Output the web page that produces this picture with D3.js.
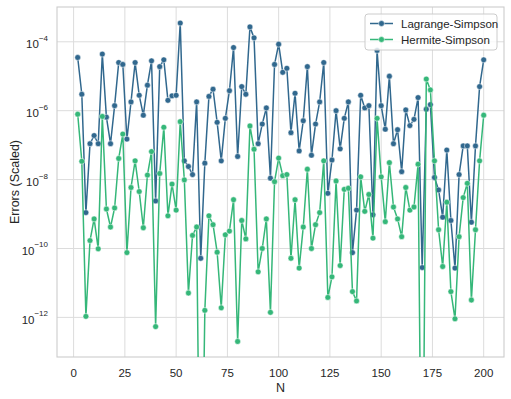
<!DOCTYPE html>
<html>
<head>
<meta charset="utf-8">
<script src="https://cdn.jsdelivr.net/npm/d3@7"></script>
<style>
  html, body { margin: 0; padding: 0; background: #fff; }
  svg text { font-family: Arial, "Liberation Sans", sans-serif; fill: #262626; }
</style>
</head>
<body>
<svg id="chart" width="511" height="399"></svg>
<script>
// N values (x)
const nValues = [2,4,6,8,10,12,14,16,18,20,22,24,26,28,30,32,34,36,38,40,
  42,44,46,48,50,52,54,56,58,60,62,64,66,68,70,72,74,76,78,80,
  82,84,86,88,90,92,94,96,98,100,102,104,106,108,110,112,114,116,118,120,
  122,124,126,128,130,132,134,136,138,140,142,144,146,148,150,152,154,156,158,160,
  162,164,166,168,170,172,174,176,178,180,182,184,186,188,190,192,194,196,198,200];

// scaled errors (0 = below the axis floor)
const lagrange = [3.5e-5,3.0e-6,1.1e-9,1.1e-7,1.9e-7,1.1e-7,4.4e-5,6.5e-7,1.1e-7,1.4e-6,
  2.5e-5,2.2e-5,1.5e-7,1.8e-6,2.5e-5,2.8e-6,7.4e-7,5.5e-6,2.8e-5,2.4e-9,
  1.9e-5,3.0e-5,2.0e-6,2.7e-6,2.8e-6,3.5e-4,3.5e-8,2.4e-8,1.4e-8,1.8e-6,
  5.2e-11,3.0e-8,2.6e-6,4.2e-6,4.6e-7,3.5e-8,6.0e-7,3.8e-6,6.8e-5,4.7e-8,
  5.0e-6,3.0e-6,2.7e-4,1.3e-4,1.1e-7,4.1e-7,1.2e-6,1.1e-8,2.2e-5,8.5e-5,
  1.3e-5,1.7e-5,2.3e-7,3.2e-6,6.8e-8,5.1e-7,1.9e-5,5.1e-8,4.1e-7,1.8e-6,
  2.5e-5,4.0e-9,3.7e-8,1.0e-6,7.8e-8,6.0e-7,1.8e-6,7.6e-11,1.3e-9,2.8e-6,
  1.2e-6,1.4e-6,9.5e-10,5.6e-5,1.4e-6,2.9e-7,1.0e-5,1.1e-7,2.8e-7,1.7e-8,
  1.05e-6,3.7e-7,5.6e-7,2.4e-6,2.8e-11,1.1e-6,1.5e-6,1.15e-8,5.0e-9,8.1e-10,
  7.2e-8,6.5e-10,2.7e-11,1.4e-8,9.5e-8,9.5e-8,5.8e-10,9.5e-8,5.0e-6,3.0e-5];

const hermite = [7.9e-7,3.4e-8,1.07e-12,1.7e-10,7.2e-10,9.8e-11,6.8e-7,1.4e-9,4.2e-10,1.5e-9,
  4.1e-8,2.1e-7,7.6e-11,5.9e-9,3.5e-8,4.5e-9,4.0e-10,1.35e-8,6.5e-8,5.4e-13,
  1.5e-8,3.3e-7,8.9e-10,7.4e-9,1.3e-9,4.8e-7,9.8e-9,5.1e-12,2.4e-10,4.2e-10,
  0,1.6e-12,8.9e-10,4.9e-10,7.8e-11,1.9e-12,2.5e-10,3.2e-10,2.6e-9,2.0e-13,
  6.5e-10,1.9e-10,3.6e-7,7.6e-8,2.1e-11,1.0e-10,7.2e-10,1.4e-12,8.7e-9,4.2e-8,
  1.3e-8,1.4e-8,5.2e-11,2.6e-9,2.7e-11,4.2e-10,2.0e-8,1.0e-10,4.9e-10,1.1e-9,
  3.5e-8,3.8e-12,1.5e-11,9.1e-9,3.2e-11,5.2e-9,5.6e-9,5.6e-12,3.0e-12,1.2e-8,
  1.2e-9,3.7e-9,2.0e-10,6.0e-7,1.2e-8,6.0e-10,3.1e-8,1.6e-9,7.2e-10,2.2e-10,
  5.9e-9,1.3e-9,1.6e-9,2.8e-8,0,8.3e-6,4.0e-6,3.5e-8,3.5e-10,3.0e-11,
  2.2e-9,5.6e-12,9.1e-13,2.2e-10,3.0e-9,7.8e-9,3.2e-12,3.5e-10,3.5e-8,7.4e-7];

const seriesNames = ['Lagrange-Simpson', 'Hermite-Simpson'];
const seriesColors = ['#31688e', '#35b779'];
const xTicks = [0, 25, 50, 75, 100, 125, 150, 175, 200];
const yTickExps = [-4, -6, -8, -10, -12];

const svg = d3.select('#chart');
const m = { left: 57, right: 504, top: 7, bottom: 357 };

const x = d3.scaleLinear().domain([-8.1, 209.9]).range([m.left, m.right]);
const y = d3.scaleLog().domain([Math.pow(10, -13.15), Math.pow(10, -2.99)]).range([m.bottom, m.top]);
const floor = 1e-20;

// grid
const grid = svg.append('g').attr('stroke', '#dcdcdc').attr('stroke-width', 1);
grid.selectAll('.gx').data(xTicks).enter().append('line')
  .attr('x1', d => x(d)).attr('x2', d => x(d)).attr('y1', m.top).attr('y2', m.bottom);
grid.selectAll('.gy').data(yTickExps).enter().append('line')
  .attr('x1', m.left).attr('x2', m.right).attr('y1', d => y(Math.pow(10, d))).attr('y2', d => y(Math.pow(10, d)));

svg.append('rect').attr('x', m.left).attr('y', m.top).attr('width', m.right - m.left).attr('height', m.bottom - m.top)
  .attr('fill', 'none').attr('stroke', '#cccccc').attr('stroke-width', 1.1);

// tick labels
svg.append('g').selectAll('text').data(xTicks).enter().append('text')
  .attr('x', d => x(d)).attr('y', 376.5).attr('text-anchor', 'middle').attr('font-size', 11.5).text(d => d);

const yl = svg.append('g').selectAll('text').data(yTickExps).enter().append('text')
  .attr('x', 48).attr('y', d => y(Math.pow(10, d)) + 6.5).attr('text-anchor', 'end').attr('font-size', 11.5);
yl.append('tspan').text('10');
yl.append('tspan').attr('dy', -7.5).attr('font-size', 8).text(d => '\u2212' + Math.abs(d));

svg.append('text').attr('x', (m.left + m.right) / 2).attr('y', 391.5).attr('text-anchor', 'middle')
  .attr('font-size', 12.5).text('N');
svg.append('text').attr('transform', `translate(19,${(m.top + m.bottom) / 2}) rotate(-90)`)
  .attr('text-anchor', 'middle').attr('font-size', 12.5).text('Errors (Scaled)');

// series
svg.append('clipPath').attr('id', 'plot-clip').append('rect')
  .attr('x', m.left).attr('y', m.top).attr('width', m.right - m.left).attr('height', m.bottom - m.top);
const plot = svg.append('g').attr('clip-path', 'url(#plot-clip)');

const line = d3.line().x(d => x(d.n)).y(d => y(Math.max(d.v, floor)));
[lagrange, hermite].forEach((vals, i) => {
  const pts = nValues.map((n, j) => ({ n, v: vals[j] }));
  plot.append('path').datum(pts).attr('d', line).attr('fill', 'none')
    .attr('stroke', seriesColors[i]).attr('stroke-width', 1.5).attr('stroke-linejoin', 'round');
  plot.append('g').selectAll('circle').data(pts.filter(p => p.v > 0)).enter().append('circle')
    .attr('cx', d => x(d.n)).attr('cy', d => y(d.v)).attr('r', 2.9)
    .attr('fill', seriesColors[i]).attr('stroke', '#fff').attr('stroke-width', 0.5);
});

// legend
const lg = svg.append('g');
lg.append('rect').attr('x', 365).attr('y', 14).attr('width', 132).attr('height', 36).attr('rx', 3)
  .attr('fill', '#fff').attr('fill-opacity', 0.8).attr('stroke', '#cccccc');
seriesNames.forEach((name, i) => {
  const ly = 23.5 + i * 16;
  lg.append('line').attr('x1', 370).attr('x2', 393).attr('y1', ly).attr('y2', ly)
    .attr('stroke', seriesColors[i]).attr('stroke-width', 1.5);
  lg.append('circle').attr('cx', 381.5).attr('cy', ly).attr('r', 2.9)
    .attr('fill', seriesColors[i]).attr('stroke', '#fff').attr('stroke-width', 0.5);
  lg.append('text').attr('x', 401).attr('y', ly + 4).attr('font-size', 11.5).text(name);
});
</script>
</body>
</html>
